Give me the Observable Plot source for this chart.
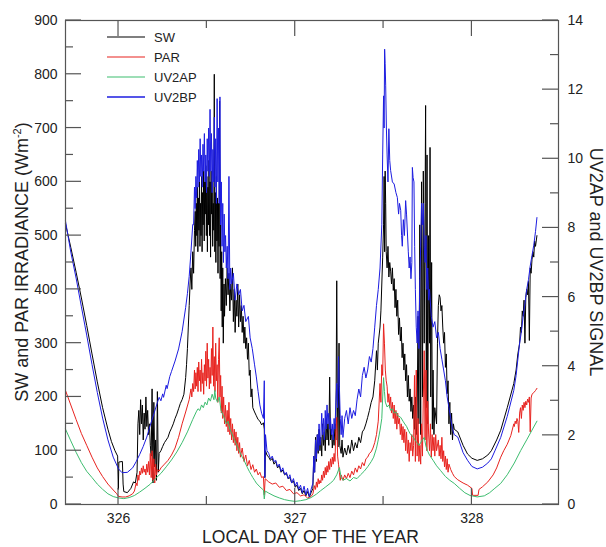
<!DOCTYPE html>
<html>
<head>
<meta charset="utf-8">
<script src="https://cdn.jsdelivr.net/npm/d3@7"></script>
<script src="https://cdn.jsdelivr.net/npm/@observablehq/plot@0.6"></script>
<style>
html,body{margin:0;padding:0;background:#fff;}
#chart{width:606px;height:547px;}
</style>
</head>
<body>
<div id="chart"></div>
<script>
// ---------- DATA (day of year, value) ----------
// SW irradiance (W m-2), left axis
const swPts = [
[325.70,522],[325.73,478],[325.76,432],[325.79,384],[325.82,333],[325.85,280],[325.88,228],[325.91,180],[325.94,140],[325.96,117],[325.98,100],[325.995,90],[325.999,28],[326.002,79],[326.022,80],[326.026,38],[326.03,24],[326.05,22],[326.07,30],[326.085,42],[326.095,40],[326.105,60],
[326.11,150],[326.115,175],[326.12,130],[326.125,195],[326.13,150],[326.135,185],[326.14,120],[326.145,170],[326.15,140],[326.155,200],[326.16,145],[326.165,175],[326.17,130],[326.175,150],[326.18,110],[326.185,90],[326.19,215],[326.195,40],[326.2,190],[326.205,70],[326.21,120],[326.215,45],[326.22,210],[326.225,60],[326.23,95],[326.24,100],
[326.25,108],[326.26,115],[326.27,120],[326.28,125],[326.29,135],[326.3,142],[326.31,150],[326.32,160],[326.33,168],[326.34,178],[326.35,188],[326.36,195],[326.37,205],[326.38,236],[326.385,260],[326.39,290],[326.395,330],[326.4,370],[326.405,410],[326.41,440],[326.415,400],[326.42,470],[326.425,430],[326.43,510],
[326.434,545],[326.437,480],[326.44,560],[326.443,500],[326.446,590],[326.449,470],[326.452,570],[326.455,510],[326.458,600],[326.461,480],[326.464,560],[326.467,500],[326.47,610],[326.473,470],[326.476,580],[326.479,520],[326.482,620],[326.485,490],[326.488,600],[326.491,540],[326.494,630],[326.497,500],[326.5,610],[326.503,470],[326.506,590],[326.509,520],[326.512,640],[326.515,500],[326.518,600],[326.521,460],[326.524,620],[326.527,540],[326.53,600],[326.533,480],[326.536,560],[326.539,510],[326.542,800],[326.545,470],[326.548,580],[326.551,450],[326.554,610],[326.557,490],[326.56,570],[326.563,430],[326.566,560],[326.569,480],[326.572,750],[326.575,420],[326.578,520],[326.581,360],[326.584,470],[326.587,330],[326.59,440],[326.593,300],[326.597,410],[326.6,350],
[326.605,420],[326.61,370],[326.615,440],[326.62,390],[326.625,430],[326.63,360],[326.635,410],[326.64,380],[326.645,440],[326.65,340],[326.655,400],[326.66,320],[326.665,380],[326.67,350],[326.675,410],[326.68,330],[326.685,390],[326.69,340],[326.695,370],[326.7,320],[326.705,350],[326.71,300],[326.715,330],[326.72,290],[326.725,310],[326.73,270],[326.735,300],[326.74,240],[326.745,250],[326.75,200],[326.755,215],[326.76,180],[326.77,172],[326.78,165],[326.79,158],[326.8,155],[326.81,148],[326.82,152],[326.825,140],[326.828,50],[326.832,100],[326.84,92],[326.85,88],[326.86,82],[326.87,86],[326.88,75],[326.89,80],[326.9,68],[326.91,72],[326.92,60],[326.93,64],[326.94,55],[326.95,58],[326.96,48],[326.97,50],[326.98,40],[326.99,44],[327.0,32],[327.01,36],[327.02,26],[327.03,30],[327.04,20],[327.05,26],[327.06,16],[327.07,24],[327.08,14],[327.09,22],[327.1,30],
[327.105,90],[327.11,60],[327.115,125],[327.12,80],[327.125,130],[327.13,95],[327.135,140],[327.14,100],[327.145,125],[327.15,90],[327.155,150],[327.16,110],[327.165,135],[327.17,100],[327.175,160],[327.18,120],[327.185,150],[327.19,110],[327.195,237],[327.2,120],[327.205,140],[327.21,105],[327.215,130],[327.22,110],[327.225,150],[327.23,120],[327.235,416],[327.238,225],[327.242,107],[327.248,300],[327.252,110],[327.26,95],[327.265,120],[327.27,88],[327.28,105],[327.29,92],[327.3,110],[327.31,95],[327.32,120],[327.33,100],[327.34,115],[327.35,105],[327.36,125],[327.37,115],[327.38,135],[327.39,140],[327.4,150],[327.41,162],[327.42,175],[327.43,190],[327.44,200],[327.45,230],[327.46,286],[327.465,250],[327.47,300],[327.48,330],[327.485,360],[327.49,410],[327.495,460],[327.5,520],
[327.503,610],[327.506,470],[327.509,620],[327.512,560],[327.515,470],[327.52,440],[327.525,480],[327.53,423],[327.535,450],[327.54,434],[327.545,410],[327.55,440],[327.555,398],[327.56,420],[327.565,366],[327.57,400],[327.575,350],[327.58,380],[327.585,316],[327.59,347],[327.595,304],[327.6,330],[327.605,273],[327.61,300],[327.615,250],[327.62,280],[327.625,230],[327.63,260],[327.635,200],[327.64,240],[327.645,192],[327.65,215],[327.655,173],[327.66,200],[327.665,160],[327.67,185],[327.675,140],[327.68,200],[327.685,130],[327.69,160],[327.695,350],[327.7,150],[327.705,520],[327.71,130],[327.715,600],[327.72,200],[327.725,620],[327.73,300],[327.735,560],[327.738,742],[327.742,180],[327.746,650],[327.75,150],[327.755,500],[327.76,300],[327.763,664],[327.767,200],[327.772,450],[327.776,140],[327.78,250],[327.785,130],[327.79,180],[327.8,150],[327.805,300],[327.81,370],[327.815,390],[327.82,385],[327.825,360],[327.83,370],[327.835,330],[327.84,300],[327.845,320],[327.85,255],[327.855,280],[327.86,206],[327.865,230],[327.87,150],[327.875,190],[327.88,130],[327.885,170],[327.89,120],[327.895,150],[327.9,140],
[327.92,135],[327.95,110],[327.975,94],[328.0,86],[328.03,82],[328.06,85],[328.09,92],[328.11,100],[328.14,120],[328.163,138],[328.2,180],[328.237,225],[328.25,250],[328.26,280],[328.27,300],[328.275,330],[328.28,320],[328.285,360],[328.29,350],[328.295,380],[328.3,300],[328.305,385],[328.31,400],[328.315,390],[328.32,415],[328.325,305],[328.33,440],[328.335,430],[328.34,455],[328.345,470],[328.35,460],[328.355,490],[328.36,480],[328.368,500]
];

// PAR irradiance (W m-2), left axis
const parPts = [
[325.7,212],[325.73,185],[325.76,158],[325.79,132],[325.82,110],[325.85,88],[325.88,68],[325.91,52],[325.94,38],[325.97,27],[325.99,20],[326.0,15],[326.02,14],[326.04,14],[326.06,16],[326.08,20],
[326.09,25],[326.1,40],[326.105,35],[326.11,55],[326.115,45],[326.12,62],[326.125,55],[326.13,68],[326.135,58],[326.14,72],[326.145,60],[326.15,66],[326.155,55],[326.16,75],[326.165,60],[326.17,80],[326.175,55],[326.18,95],[326.185,50],[326.19,100],[326.195,45],[326.2,85],[326.205,40],[326.21,75],[326.215,55],[326.22,65],[326.23,62],[326.24,68],[326.26,75],[326.28,82],[326.3,92],[326.32,105],[326.34,125],[326.36,150],[326.38,172],[326.4,195],[326.41,215],[326.415,200],[326.42,225],[326.425,210],
[326.43,250],[326.434,215],[326.438,245],[326.442,220],[326.446,255],[326.45,210],[326.454,265],[326.458,230],[326.462,250],[326.466,210],[326.47,270],[326.474,225],[326.478,245],[326.482,205],[326.486,260],[326.49,230],[326.494,285],[326.498,220],[326.502,300],[326.506,235],[326.51,270],[326.514,215],[326.518,255],[326.522,225],[326.526,290],[326.53,240],[326.534,330],[326.538,220],[326.542,275],[326.546,210],[326.55,300],[326.554,230],[326.558,260],[326.562,190],[326.566,270],[326.57,310],[326.574,200],[326.578,240],[326.582,170],[326.586,220],[326.59,160],[326.595,200],[326.6,150],[326.605,185],[326.61,145],[326.615,175],[326.62,135],[326.625,190],[326.63,130],[326.635,160],[326.64,120],[326.645,150],[326.65,115],[326.655,140],[326.66,110],[326.665,135],[326.67,100],[326.675,125],[326.68,95],[326.685,115],[326.69,88],[326.7,105],[326.71,80],[326.72,92],[326.73,72],[326.74,82],[326.75,65],[326.76,74],[326.77,60],[326.78,66],[326.79,55],[326.8,60],[326.81,50],[326.82,52],[326.825,18],[326.83,48],[326.85,42],[326.87,38],[326.89,40],[326.91,32],[326.93,34],[326.95,26],[326.97,28],[326.99,20],[327.01,22],[327.03,16],[327.05,18],[327.07,12],[327.09,15],[327.1,20],
[327.11,35],[327.115,28],[327.12,42],[327.125,32],[327.13,48],[327.135,38],[327.14,45],[327.145,40],[327.15,55],[327.155,45],[327.16,62],[327.165,50],[327.17,69],[327.175,55],[327.18,72],[327.185,60],[327.19,80],[327.195,65],[327.2,85],[327.205,70],[327.21,88],[327.215,75],[327.22,95],[327.225,80],[327.23,138],[327.235,162],[327.24,90],[327.245,75],[327.25,60],[327.255,45],[327.26,55],[327.27,45],[327.28,55],[327.29,48],[327.3,58],[327.31,50],[327.32,62],[327.33,55],[327.34,68],[327.35,60],[327.36,72],[327.37,66],[327.38,78],[327.39,72],[327.4,85],[327.41,88],[327.42,95],[327.43,98],[327.44,105],[327.45,115],[327.46,130],[327.47,155],[327.48,225],[327.485,190],[327.49,260],[327.495,240],[327.5,336],[327.505,300],[327.51,250],[327.515,230],
[327.52,220],[327.525,190],[327.53,206],[327.535,180],[327.54,200],[327.545,170],[327.55,190],[327.555,160],[327.56,185],[327.565,150],[327.57,175],[327.575,140],[327.58,170],[327.585,150],[327.59,160],[327.595,130],[327.6,150],[327.605,120],[327.61,145],[327.615,115],[327.62,140],[327.625,100],[327.63,135],[327.635,95],[327.64,120],[327.645,80],[327.65,115],[327.655,100],[327.66,130],[327.665,90],[327.67,110],[327.675,240],[327.68,80],[327.685,250],[327.69,90],[327.695,160],[327.7,80],[327.705,110],[327.71,75],[327.715,150],[327.72,90],[327.725,200],[327.73,286],[327.735,120],[327.74,250],[327.745,100],[327.75,192],[327.755,131],[327.76,100],[327.765,150],[327.77,88],[327.775,130],[327.78,100],[327.785,125],[327.79,90],[327.795,130],[327.8,100],[327.81,120],[327.815,90],[327.82,110],[327.825,85],[327.83,125],[327.835,80],[327.84,100],[327.845,70],[327.85,90],[327.855,65],[327.86,85],[327.865,60],[327.87,75],[327.88,65],[327.89,58],[327.9,52],[327.92,46],[327.95,40],[327.975,36],[328.0,30],[328.004,17],[328.035,17],[328.04,28],[328.06,33],[328.09,42],[328.12,55],[328.14,68],[328.163,88],[328.18,100],[328.2,112],[328.22,128],[328.237,150],[328.24,145],[328.245,155],[328.25,150],[328.255,160],[328.26,155],[328.265,134],[328.27,170],[328.275,180],[328.28,160],[328.285,185],[328.29,175],[328.295,190],[328.3,180],[328.305,192],[328.31,185],[328.315,196],[328.32,190],[328.325,200],[328.33,135],[328.335,198],[328.34,205],[328.35,208],[328.36,212],[328.368,216]
];

// UV2AP signal, right axis
const uvaPts = [
[325.7,2.18],[325.73,1.84],[325.76,1.51],[325.79,1.21],[325.82,0.96],[325.85,0.78],[325.88,0.59],[325.91,0.44],[325.94,0.31],[325.97,0.23],[326.0,0.19],[326.03,0.17],[326.06,0.2],[326.09,0.26],[326.12,0.36],[326.15,0.47],[326.18,0.59],[326.21,0.75],[326.24,0.9],[326.27,1.09],[326.3,1.29],[326.33,1.52],[326.36,1.79],[326.39,2.1],[326.42,2.46],[326.44,2.68],[326.45,2.77],[326.46,2.72],[326.47,2.88],[326.48,2.8],[326.49,2.96],[326.5,2.88],[326.51,3.08],[326.52,2.99],[326.53,3.19],[326.54,3.03],[326.545,3.3],[326.55,3.08],[326.56,2.96],[326.57,3.11],[326.58,2.72],[326.59,2.61],[326.6,2.49],[326.61,2.33],[326.62,2.41],[326.63,2.18],[326.64,2.07],[326.65,1.94],[326.66,1.84],[326.67,1.71],[326.68,1.59],[326.69,1.48],[326.7,1.37],[326.71,1.28],[326.72,1.17],[326.73,1.06],[326.74,0.96],[326.75,0.87],[326.76,0.78],[326.77,0.7],[326.78,0.62],[326.8,0.51],[326.82,0.42],[326.825,0.16],[326.83,0.39],[326.85,0.33],[326.88,0.25],[326.91,0.19],[326.94,0.14],[326.97,0.11],[327.0,0.09],[327.03,0.11],[327.06,0.14],[327.09,0.2],[327.12,0.3],[327.144,0.4],[327.17,0.5],[327.2,0.62],[327.217,0.7],[327.235,0.86],[327.25,1.07],[327.26,0.78],[327.27,0.7],[327.29,0.75],[327.31,0.68],[327.33,0.78],[327.35,0.75],[327.37,0.86],[327.39,0.96],[327.41,1.09],[327.43,1.24],[327.444,1.37],[327.46,1.63],[327.47,1.87],[327.48,2.15],[327.49,2.49],[327.495,3.11],[327.5,3.67],[327.505,3.27],[327.51,2.96],[327.52,2.82],[327.53,2.88],[327.54,2.72],[327.55,2.77],[327.56,2.64],[327.57,2.68],[327.58,2.57],[327.597,2.52],[327.61,2.41],[327.62,2.33],[327.63,2.26],[327.64,2.15],[327.65,2.05],[327.66,1.99],[327.67,1.94],[327.68,1.84],[327.69,1.79],[327.7,1.71],[327.71,1.79],[327.72,1.87],[327.73,1.94],[327.74,1.68],[327.748,1.56],[327.76,1.43],[327.78,1.28],[327.8,1.12],[327.823,0.98],[327.85,0.81],[327.875,0.7],[327.9,0.61],[327.93,0.47],[327.96,0.34],[327.99,0.26],[328.03,0.22],[328.07,0.25],[328.1,0.34],[328.13,0.47],[328.163,0.61],[328.2,0.86],[328.24,1.2],[328.276,1.56],[328.31,1.87],[328.34,2.15],[328.368,2.41]
];

// UV2BP signal, right axis
const uvbPts = [
[325.7,8.2],[325.73,7.3],[325.76,6.55],[325.79,5.72],[325.82,4.9],[325.85,4.05],[325.88,3.24],[325.91,2.5],[325.94,1.87],[325.97,1.37],[326.0,1.03],[326.02,0.92],[326.05,0.93],[326.08,1.06],[326.1,1.24],[326.12,1.45],[326.14,1.68],[326.16,1.95],[326.18,2.3],[326.2,2.62],[326.22,2.95],[326.23,3.1],[326.24,3.0],[326.25,3.2],[326.255,3.1],[326.27,3.45],[326.275,3.35],[326.29,3.7],[326.3,3.85],[326.32,4.15],[326.34,4.5],[326.36,5.0],[326.38,5.7],[326.39,6.1],[326.4,6.6],[326.41,7.3],[326.42,8.1],
[326.425,8.09],[326.43,9.18],[326.434,8.56],[326.438,9.49],[326.442,8.87],[326.446,9.95],[326.45,9.18],[326.454,10.27],[326.458,9.33],[326.462,10.58],[326.466,9.49],[326.47,10.11],[326.474,9.18],[326.478,10.42],[326.482,9.64],[326.486,10.73],[326.49,9.33],[326.494,10.11],[326.498,9.02],[326.502,10.58],[326.506,9.64],[326.51,10.89],[326.514,9.49],[326.518,11.43],[326.522,9.64],[326.526,10.73],[326.53,9.02],[326.534,10.27],[326.538,9.33],[326.542,11.2],[326.546,9.18],[326.55,10.58],[326.554,8.71],[326.558,11.74],[326.562,9.33],[326.566,10.89],[326.57,8.71],[326.574,11.79],[326.578,8.09],[326.582,9.33],[326.586,7.47],[326.59,8.71],[326.594,7.0],[326.598,8.4],[326.602,7.31],[326.606,7.78],[326.61,6.84],[326.615,7.47],[326.62,6.53],[326.625,9.49],[326.63,6.22],[326.635,6.84],[326.64,6.38],[326.65,6.69],[326.66,5.91],[326.67,6.38],[326.68,6.07],[326.69,6.22],[326.7,5.6],[326.71,5.76],[326.72,5.29],[326.735,5.44],[326.745,4.82],[326.757,4.51],[326.77,4.04],[326.78,3.69],[326.79,3.27],[326.8,2.88],[326.81,2.64],[326.82,2.49],[326.825,3.58],[326.828,0.78],[326.832,2.02],[326.84,1.56],[326.85,1.48],[326.86,1.32],[326.87,1.4],[326.88,1.24],[326.89,1.28],[326.9,1.09],[326.91,1.17],[326.92,0.96],[326.93,1.06],[326.94,0.86],[326.95,0.93],[326.96,0.75],[326.97,0.86],[326.98,0.62],[326.99,0.75],[327.0,0.54],[327.01,0.65],[327.02,0.44],[327.03,0.56],[327.04,0.34],[327.05,0.53],[327.06,0.28],[327.07,0.47],[327.08,0.23],[327.09,0.44],[327.1,0.62],
[327.105,1.4],[327.11,0.93],[327.115,1.87],[327.12,1.32],[327.125,2.02],[327.13,1.56],[327.135,2.33],[327.14,1.71],[327.145,1.94],[327.15,2.64],[327.155,2.02],[327.16,2.49],[327.165,1.87],[327.17,2.72],[327.175,2.18],[327.18,2.88],[327.185,2.33],[327.19,2.64],[327.195,2.18],[327.2,2.49],[327.205,2.02],[327.21,2.33],[327.215,1.87],[327.22,2.49],[327.225,2.18],[327.23,2.96],[327.235,3.5],[327.24,2.8],[327.245,4.28],[327.25,3.42],[327.255,2.49],[327.26,2.02],[327.265,2.57],[327.27,1.94],[327.28,2.49],[327.29,2.72],[327.3,2.33],[327.31,2.8],[327.32,2.49],[327.33,2.72],[327.34,2.57],[327.35,3.03],[327.36,3.34],[327.37,3.11],[327.38,3.73],[327.39,3.97],[327.4,3.66],[327.41,3.89],[327.42,4.28],[327.43,4.12],[327.44,4.51],[327.45,5.13],[327.46,5.76],[327.47,6.22],[327.48,6.84],[327.49,8.09],[327.495,10.11],[327.5,11.82],[327.503,10.89],[327.506,13.17],[327.509,12.75],[327.512,12.13],[327.516,10.89],[327.52,10.11],[327.525,9.33],[327.53,10.87],[327.535,9.95],[327.54,9.66],[327.55,9.33],[327.56,9.27],[327.57,9.02],[327.578,8.88],[327.585,8.4],[327.59,8.71],[327.597,8.51],[327.602,7.78],[327.606,7.47],[327.612,8.24],[327.618,7.78],[327.625,8.79],[327.63,8.4],[327.64,7.31],[327.645,6.84],[327.65,7.16],[327.655,6.53],[327.66,7.0],[327.663,9.75],[327.667,9.46],[327.672,9.33],[327.676,7.47],[327.68,6.22],[327.685,5.13],[327.69,4.67],[327.695,5.6],[327.7,4.51],[327.705,6.53],[327.71,7.47],[327.715,8.71],[327.72,8.09],[327.725,8.71],[327.73,7.47],[327.735,7.0],[327.74,7.78],[327.745,6.22],[327.75,6.84],[327.755,5.91],[327.76,6.22],[327.77,5.44],[327.78,5.13],[327.79,5.29],[327.8,4.82],[327.81,4.98],[327.82,4.51],[327.83,4.2],[327.84,3.89],[327.85,3.58],[327.86,3.11],[327.87,2.8],[327.88,2.49],[327.89,2.18],[327.9,2.02],
[327.92,1.95],[327.95,1.5],[327.975,1.28],[328.0,1.1],[328.03,1.03],[328.06,1.08],[328.09,1.2],[328.11,1.32],[328.13,1.55],[328.163,1.94],[328.2,2.55],[328.237,3.3],[328.25,3.73],[328.27,4.67],[328.28,5.0],[328.29,5.45],[328.3,5.8],[328.31,6.22],[328.32,6.5],[328.33,6.9],[328.34,7.2],[328.35,7.5],[328.36,7.9],[328.368,8.3]
];

// ---------- AXES ----------
const dayDomain = [325.70, 328.49];
const irrDomain = [0, 900];
const signalMax = 14;
const dayTicks = [326, 327, 328];
const dayMinorTicks = [326.5, 327.5];
const irrTicks = [0, 100, 200, 300, 400, 500, 600, 700, 800, 900];
const irrMinorTicks = [50, 150, 250, 350, 450, 550, 650, 750, 850];
const signalTicks = [0, 2, 4, 6, 8, 10, 12, 14];
const signalMinorTicks = [1, 3, 5, 7, 9, 11, 13];
const seriesNames = ["SW", "PAR", "UV2AP", "UV2BP"];
const seriesColors = ["#000000", "#e8231f", "#3dbd6f", "#1d1de0"];
const leftTitle = "SW and PAR IRRADIANCE (Wm";
const leftTitleSup = "-2";
const rightTitle = "UV2AP and UV2BP SIGNAL";
const bottomTitle = "LOCAL DAY OF THE YEAR";

const toIrr = irrDomain[1] / signalMax;   // right-axis signal -> left-axis units
const FONT = "'Liberation Sans', Arial, Helvetica, sans-serif";
const TEXT = "#222";
const FRAME = "#555";
const W = 606, H = 547, ML = 65, MR = 48, MT = 20, MB = 43;

const seriesPts = [swPts, parPts, uvaPts, uvbPts];
const onRight = [false, false, true, true];
const seriesRows = seriesPts.map((pts, i) =>
  pts.map(([day, v]) => ({day, value: onRight[i] ? v * toIrr : v, name: seriesNames[i]})));

const chart = Plot.plot({
  width: W,
  height: H,
  marginLeft: ML,
  marginRight: MR,
  marginTop: MT,
  marginBottom: MB,
  style: {fontFamily: FONT, color: TEXT, background: "#fff"},
  x: {domain: dayDomain},
  y: {domain: irrDomain},
  marks: [
    ...seriesRows.map((rows, i) => Plot.line(rows, {x: "day", y: "value", stroke: seriesColors[i], strokeWidth: 1})),
    Plot.frame({stroke: FRAME, strokeWidth: 1.2}),
    Plot.axisY(irrTicks, {anchor: "left", tickSize: 0, tickPadding: 8, fontSize: 14, label: null}),
    Plot.axisY(signalTicks.map(t => t * toIrr), {anchor: "right", tickSize: 0, tickPadding: 9, fontSize: 14, label: null, tickFormat: v => String(Math.round(v / toIrr))}),
    Plot.axisX(dayTicks, {anchor: "bottom", tickSize: 0, tickPadding: 9, fontSize: 14, label: null, tickFormat: d => String(d)})
  ]
});
document.getElementById("chart").appendChild(chart);

// ---------- inward frame ticks, titles, legend (positions from Plot's scales) ----------
const svgEl = chart.tagName.toLowerCase() === "svg" ? chart : chart.querySelector("svg");
const svg = d3.select(svgEl);
const xs = chart.scale("x"), ys = chart.scale("y");
const L = ML, R = W - MR, T = MT, B = H - MB;

const tg = svg.append("g").attr("stroke", FRAME).attr("stroke-width", 1.2).attr("fill", "none");
const seg = (x1, y1, x2, y2) => tg.append("line").attr("x1", x1).attr("y1", y1).attr("x2", x2).attr("y2", y2);
for (const t of dayTicks) { const p = xs.apply(t); seg(p, B, p, B - 16); seg(p, T, p, T + 16); }
for (const t of dayMinorTicks) { const p = xs.apply(t); seg(p, B, p, B - 8); seg(p, T, p, T + 8); }
for (const t of irrTicks) { const p = ys.apply(t); seg(L, p, L + 16, p); }
for (const t of irrMinorTicks) { const p = ys.apply(t); seg(L, p, L + 8, p); }
for (const t of signalTicks) { const p = ys.apply(t * toIrr); seg(R, p, R - 16, p); }
for (const t of signalMinorTicks) { const p = ys.apply(t * toIrr); seg(R, p, R - 8, p); }

const cy = (T + B) / 2, cx = (L + R) / 2;
const g = svg.append("g").attr("fill", TEXT).attr("font-family", FONT).attr("font-size", 18);
const lt = g.append("text").attr("text-anchor", "middle")
  .attr("transform", `translate(${L - 37},${cy}) rotate(-90)`);
lt.append("tspan").text(leftTitle);
lt.append("tspan").attr("font-size", 11).attr("dy", -7).text(leftTitleSup);
lt.append("tspan").attr("dy", 7).text(")");
g.append("text").attr("text-anchor", "middle")
  .attr("transform", `translate(${R + 32},${cy}) rotate(90)`).text(rightTitle);
g.append("text").attr("text-anchor", "middle").attr("font-size", 17.5).attr("x", cx - 1).attr("y", B + 39).text(bottomTitle);

const lg = svg.append("g").attr("font-family", FONT).attr("font-size", 13);
seriesNames.forEach((name, i) => {
  const yy = T + 17 + i * 20;
  lg.append("line").attr("x1", L + 42).attr("x2", L + 80).attr("y1", yy).attr("y2", yy)
    .attr("stroke", seriesColors[i]).attr("stroke-width", i === 3 ? 1.6 : 1.2);
  lg.append("text").attr("x", L + 89).attr("y", yy).attr("dy", "0.35em")
    .attr("text-anchor", "start").attr("fill", TEXT).text(name);
});
</script>
</body>
</html>
